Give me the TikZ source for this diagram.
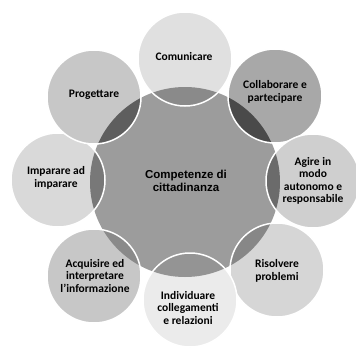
\documentclass[tikz,border=0pt]{standalone}
\usepackage{fontspec}
\setmainfont{Carlito}
\newfontfamily\hubfont{Liberation Sans}
\usepackage{tikz}

\pgfdeclarelayer{bg}
\pgfsetlayers{bg,main}

\begin{document}
\begin{tikzpicture}[x=1pt,y=-1pt,
  spoke/.style={align=center,font=\fontsize{11.5}{12.5}\selectfont\bfseries},
  hub/.style={align=center,font=\hubfont\fontsize{11.5}{13}\selectfont\bfseries}]
\useasboundingbox (0,0) rectangle (356,351);
% centre
\node[hub] (hub) at (186,181) {Competenze di\\cittadinanza};
\begin{pgfonlayer}{bg}
\fill[black!39] (hub.center) ++(-1,1) circle (95pt);
\end{pgfonlayer}
% ring of circles
\foreach \nm/\cx/\cy/\tx/\ty/\fc/\dc/\txt in {
  comunicare/185/59/184/57/black!12/black!46/{Comunicare},
  collaborare/275/96/275/92/black!34/black!71/{Collaborare e\\partecipare},
  agire/313/181/313/181/black!19/black!58/{Agire in\\modo\\autonomo e\\responsabile},
  risolvere/277/270/277/271/black!16/black!47/{Risolvere\\problemi},
  individuare/190/300/188/308/black!8/black!42/{Individuare\\collegamenti\\e relazioni},
  acquisire/94/276/95/276/black!22/black!46/{Acquisire ed\\interpretare\\l'informazione},
  imparare/58/180/56/178/black!15/black!53/{Imparare ad\\imparare},
  progettare/94/97/94/95/black!22/black!63/{Progettare}}
{
\node[spoke] (\nm) at (\tx,\ty) {\txt};
\begin{pgfonlayer}{bg}
\fill[\fc] (\cx,\cy) circle (47pt);
\begin{scope}
\clip (185,182) circle (95pt);
\fill[\dc] (\cx,\cy) circle (47pt);
\end{scope}
\draw[white,line width=1.5pt] (\cx,\cy) circle (47pt);
\end{pgfonlayer}
}
\end{tikzpicture}
\end{document}
